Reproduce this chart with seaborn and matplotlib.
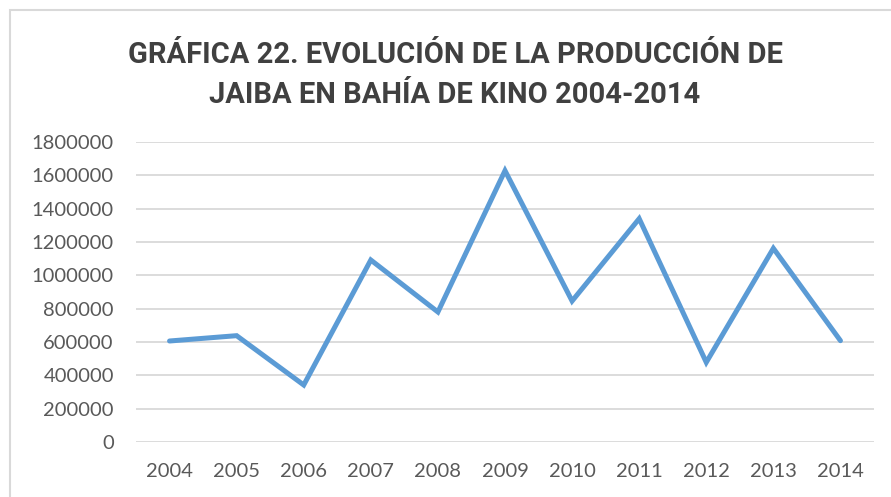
import matplotlib
matplotlib.use("Agg")
import matplotlib.pyplot as plt
import seaborn as sns
import pandas as pd
from matplotlib.patches import Rectangle

# data
years = ["2004", "2005", "2006", "2007", "2008", "2009", "2010", "2011", "2012", "2013", "2014"]
produccion = [606000, 638000, 342000, 1092000, 780000, 1628000, 846000, 1340000, 478000, 1162000, 608000]
y_ticks = [0, 200000, 400000, 600000, 800000, 1000000, 1200000, 1400000, 1600000, 1800000]

title_lines = ["GRÁFICA 22. EVOLUCIÓN DE LA PRODUCCIÓN DE", "JAIBA EN BAHÍA DE KINO 2004-2014"]

df = pd.DataFrame({"year": years, "value": produccion})

sns.set_theme(style="white")
plt.rcParams["font.family"] = ["Lato", "DejaVu Sans"]

fig = plt.figure(figsize=(8.91, 4.97), dpi=100)
W, H = 891, 497

# outer chart frame (cropped at right and bottom like the reference)
fig.patches.append(Rectangle((10 / W, -0.1), 1.2, 1 - 10 / H + 0.1, transform=fig.transFigure,
                             fill=False, edgecolor="#d9d9d9", linewidth=1.5))

ax = fig.add_axes([136 / W, 1 - 442 / H, (874 - 136) / W, (442 - 142) / H])
sns.lineplot(data=df, x="year", y="value", ax=ax, color="#5b9bd5", linewidth=3.6,
             sort=False, solid_joinstyle="miter")

ax.set_xlim(-0.5, len(years) - 0.5)
ax.set_ylim(0, 1800000)
ax.set_yticks(y_ticks)
ax.set_yticklabels([str(v) for v in y_ticks])
ax.yaxis.grid(True, color="#d9d9d9", linewidth=1.3)
ax.xaxis.grid(False)
ax.set_axisbelow(True)
for s in ax.spines.values():
    s.set_visible(False)
ax.tick_params(axis="both", length=0, labelsize=14.5, colors="#595959")
ax.tick_params(axis="y", pad=16)
ax.tick_params(axis="x", pad=15)
ax.set_xlabel("")
ax.set_ylabel("")

for i, line in enumerate(title_lines):
    fig.text(455 / W, 1 - (63 + 40 * i) / H, line, ha="center", va="baseline",
             fontsize=21, fontweight="bold", color="#404040",
             family=["Roboto", "DejaVu Sans"])

fig.savefig("out.png", dpi=100)
